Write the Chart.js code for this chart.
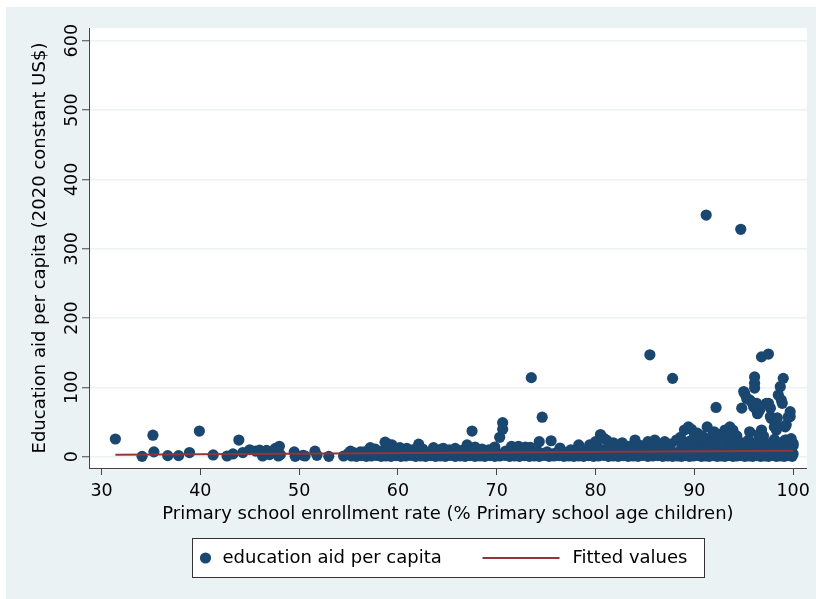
<!DOCTYPE html>
<html>
<head>
<meta charset="utf-8">
<script src="https://cdn.jsdelivr.net/npm/chart.js@4.4.1/dist/chart.umd.min.js"></script>
<style>
  html, body { margin: 0; padding: 0; background: #ffffff; }
  canvas { display: block; }
</style>
</head>
<body>
<canvas id="chart" width="816" height="599"></canvas>
<script>
// Primary school enrollment rate (%) for each country-year observation
const enrollmentRate = [
  31.4, 34.1, 35.2, 35.3, 36.7, 37.8, 38.9, 39.9, 41.3, 42.7, 43.3, 43.9,
  44.3, 45.0, 45.6, 46.0, 46.3, 46.7, 47.0, 47.4, 47.6, 47.9, 48.0, 48.1,
  49.5, 49.6, 50.4, 50.6, 51.6, 51.8, 53.0, 54.5, 55.0,
  55.3, 55.8, 56.3, 56.8, 57.3, 57.8, 58.3, 58.8, 59.3, 59.8, 60.3, 60.8, 61.3,
  61.8, 62.3, 62.8, 63.3, 63.8, 64.3, 64.8, 65.3, 65.8, 66.3, 66.8, 67.3, 67.8,
  55.5, 56.1, 56.6, 57.1, 57.6, 58.1, 58.5, 59.0, 59.6, 60.1, 60.6, 61.1, 61.6,
  62.0, 62.6, 63.1, 63.6, 64.1, 64.6, 65.1, 65.6, 66.1, 66.6, 67.1, 67.6,
  55.2, 56.2, 57.2, 57.7, 58.7, 59.0, 59.4, 60.2, 60.9, 61.5, 62.1, 62.5,
  63.6, 64.4, 64.6, 65.2, 65.8, 66.5, 67.0, 67.5, 67.8,
  68.3, 68.8, 69.3, 69.8, 70.3, 70.8, 71.3, 71.8, 72.3, 72.8,
  73.3, 73.8, 74.3, 74.8, 75.3, 75.8, 76.3, 76.8, 77.3, 77.8,
  68.1, 68.6, 69.1, 69.6, 70.1, 70.9, 71.2, 71.7, 72.0, 72.6,
  73.1, 73.7, 74.1, 74.7, 75.1, 75.7, 76.1, 76.6, 77.1, 77.7,
  68.5, 69.2, 69.8, 70.3, 70.6, 70.6, 71.5, 72.2, 72.9, 73.4, 73.5, 74.3,
  74.6, 75.5, 76.4, 77.5,
  78.3, 78.8, 79.3, 79.8, 80.3, 80.8, 81.3, 81.8, 82.3, 82.8,
  83.3, 83.8, 84.3, 84.8, 85.3, 85.8, 86.3, 86.8, 87.3, 87.8,
  78.1, 78.6, 79.1, 79.6, 80.1, 80.6, 81.1, 81.6, 82.1, 82.6,
  83.1, 83.6, 84.1, 84.6, 85.1, 85.6, 86.1, 86.6, 87.1, 87.6,
  80.2, 81.4, 82.2, 83.0, 84.2, 85.0, 85.8, 86.8, 87.4,
  78.3, 79.4, 80.0, 80.5, 80.8, 81.1, 81.8, 82.7, 83.4, 84.0, 84.6, 85.3,
  85.5, 86.0, 86.6, 87.0, 87.6, 87.8, 88.2,
  88.3, 88.7, 89.1, 89.5, 89.9, 90.3, 90.7, 91.1, 91.5, 91.9,
  92.3, 92.7, 93.1, 93.5, 93.9, 94.3, 94.7, 95.1, 95.5, 95.9,
  96.3, 96.7, 97.1, 97.5, 97.9, 98.3, 98.7, 99.1, 99.5, 99.9,
  88.5, 88.9, 89.3, 89.7, 90.1, 90.5, 90.9, 91.3, 91.7, 92.1,
  92.5, 92.9, 93.3, 93.7, 94.1, 94.5, 94.9, 95.3, 95.7, 96.1,
  96.5, 96.9, 97.3, 97.7, 98.1, 98.5, 98.9, 99.3, 99.7, 100.0,
  88.7, 89.2, 89.6, 90.0, 90.4, 90.9, 91.3, 91.8, 92.2, 92.6,
  93.0, 93.5, 93.9, 94.3, 94.8, 95.2, 95.6, 96.0, 96.4, 96.9,
  97.3, 97.7, 98.2, 98.6, 99.0, 99.4, 99.8, 100.0,
  88.9, 89.5, 90.1, 90.6, 91.2, 91.7, 92.3, 92.8, 93.4, 93.9,
  94.4, 95.0, 95.5, 96.0, 96.6, 97.1, 97.6, 98.1, 98.7, 99.2,
  99.6, 100.0, 99.8, 99.4,
  88.6, 89.0, 89.4, 89.7, 90.3, 90.8, 91.3, 91.8, 92.0, 92.2, 92.6, 93.1,
  93.6, 93.9, 94.3, 94.8, 95.0, 95.3, 95.6, 95.8, 96.0, 96.1, 96.1, 96.3,
  96.3, 96.6, 96.8, 96.8, 97.3, 97.5, 97.5, 97.7, 97.8, 98.1, 98.3, 98.3,
  98.4, 98.5, 98.7, 98.8, 98.9, 99.0, 99.2, 99.3, 99.3, 99.5, 99.7, 91.2,
  94.7, 95.1, 96.1, 97.7, 99.7, 96.5, 94.0, 92.5, 90.0, 97.0, 95.6, 96.4
];

// Education aid per capita (2020 constant US$), same order as enrollmentRate
const aidPerCapita = [
  25.5, 0.5, 31, 7, 1.5, 1.5, 6, 37, 2.5, 1, 4, 24,
  6, 10, 8, 9.5, 1, 9, 3, 9, 12, 1, 15, 3,
  7, 0.5, 2, 1, 8, 2, 0.5, 1, 5,
  1, 0.5, 1.5, 0.5, 1, 2, 0.5, 1, 0.5, 1.5, 0.5, 1, 2,
  0.5, 1, 0.5, 1.5, 0.5, 1, 0.5, 2, 0.5, 1, 0.5, 1.5, 0.5,
  6, 4, 7, 5, 8, 4, 9, 6, 5, 8, 4, 7, 5,
  8, 4, 6, 9, 5, 7, 4, 8, 5, 6, 4, 7,
  8, 7, 13, 11, 21, 18, 17, 13, 12, 10, 18, 11,
  13, 11, 12, 10, 12, 9, 17, 37, 14,
  1, 0.5, 1.5, 0.5, 1, 2, 0.5, 1, 0.5, 1.5,
  0.5, 1, 0.5, 2, 0.5, 1, 1.5, 0.5, 1, 0.5,
  5, 8, 4, 7, 5, 8, 4, 6, 9, 5,
  7, 4, 8, 5, 7, 4, 6, 8, 5, 4,
  11, 10, 14, 28, 39.5, 49, 15, 15, 14, 13.5, 114, 21.6,
  57, 23, 12.5, 10,
  1, 0.5, 1.5, 0.5, 1, 2, 0.5, 1, 0.5, 1.5,
  0.5, 1, 0.5, 2, 0.5, 1, 1.5, 0.5, 1, 0.5,
  6, 9, 5, 8, 4, 10, 6, 9, 5, 8,
  10, 6, 9, 5, 8, 11, 6, 9, 5, 10,
  14, 13, 15, 12, 14, 13, 15, 12, 14,
  17, 17, 21.6, 32, 27, 24, 20, 20, 15, 24, 16, 21.6,
  147, 24, 15, 21.6, 18, 113, 24,
  1, 0.5, 1.5, 0.5, 1, 2, 0.5, 1, 0.5, 1.5,
  0.5, 1, 0.5, 2, 0.5, 1, 1.5, 0.5, 1, 0.5,
  1.5, 0.5, 1, 0.5, 2, 0.5, 1, 0.5, 1.5, 0.5,
  6, 8, 5, 9, 6, 7, 5, 8, 6, 9,
  5, 7, 9, 6, 8, 5, 7, 9, 6, 8,
  5, 7, 9, 6, 8, 5, 7, 9, 6, 4,
  12, 14, 11, 15, 13, 12, 16, 11, 14, 13,
  15, 12, 14, 11, 16, 13, 12, 15, 14, 11,
  16, 13, 12, 15, 14, 11, 13, 16,
  20, 22, 18, 24, 21, 19, 23, 20, 25, 18,
  22, 20, 24, 19, 23, 21, 18, 25, 20, 24,
  22, 19, 26, 18,
  28, 38.5, 43, 39.5, 34, 30, 43, 30, 36, 71, 28, 38.5,
  43, 38.5, 30, 70, 94, 84, 36, 79, 72, 106, 115, 67,
  77, 67, 144, 38.5, 77, 148, 77, 58, 55, 43, 38.5, 48,
  56, 89, 101, 82, 77, 113, 43, 46, 24, 57, 65, 348.5,
  328, 91, 99, 70, 58, 32, 33, 32, 30, 30, 82, 62
];

// Linear fit of aid on enrollment, evaluated at the ends of the observed range
const fittedEnrollment = [31.4, 100];
const fittedAid = [2.9, 8.7];

// Axis tick labels
const xTickValues = [30, 40, 50, 60, 70, 80, 90, 100];
const yTickValues = [0, 100, 200, 300, 400, 500, 600];

const FONT_FAMILY = "'DejaVu Sans', 'Liberation Sans', sans-serif";
const NAVY = '#1a476f';
const MAROON = '#90353b';
const AXIS_GRAY = '#444444';
const REGION_BLUE = '#eaf2f3';

Chart.defaults.font.family = FONT_FAMILY;
Chart.defaults.color = '#000000';

// Light graph region with a white plot region on top of it
const regionBackground = {
  id: 'regionBackground',
  beforeDraw(chart) {
    const { ctx, chartArea: a, width, height } = chart;
    ctx.save();
    ctx.fillStyle = '#ffffff';
    ctx.fillRect(0, 0, width, height);
    ctx.fillStyle = REGION_BLUE;
    ctx.fillRect(6, 7, width - 6, height - 7);
    ctx.fillStyle = '#ffffff';
    ctx.fillRect(a.left, a.top, a.right - a.left, a.bottom - a.top);
    ctx.restore();
  }
};

// Boxed legend centred under the plot region
const boxedLegend = {
  id: 'boxedLegend',
  afterDraw(chart) {
    const { ctx, chartArea: a } = chart;
    const scatterSet = chart.data.datasets[1];
    const fitSet = chart.data.datasets[0];
    const boxW = 512, boxH = 39;
    const cx = (a.left + a.right) / 2;
    const bx = Math.round(cx - boxW / 2) + 0.5;
    const by = 538.5;
    const cy = by + boxH / 2;
    ctx.save();
    ctx.fillStyle = '#ffffff';
    ctx.fillRect(bx, by, boxW, boxH);
    ctx.strokeStyle = '#333333';
    ctx.lineWidth = 1;
    ctx.strokeRect(bx, by, boxW, boxH);

    ctx.fillStyle = scatterSet.backgroundColor;
    ctx.beginPath();
    ctx.arc(bx + 13, cy, scatterSet.pointRadius, 0, Math.PI * 2);
    ctx.fill();

    ctx.font = '18px ' + FONT_FAMILY;
    ctx.fillStyle = '#000000';
    ctx.textAlign = 'left';
    ctx.textBaseline = 'middle';
    ctx.fillText(scatterSet.label, bx + 30, cy);

    ctx.strokeStyle = fitSet.borderColor;
    ctx.lineWidth = fitSet.borderWidth;
    ctx.beginPath();
    ctx.moveTo(bx + 290, cy);
    ctx.lineTo(bx + 367, cy);
    ctx.stroke();

    ctx.fillStyle = '#000000';
    ctx.fillText(fitSet.label, bx + 380, cy);
    ctx.restore();
  }
};

const scatterPoints = enrollmentRate.map((x, i) => ({ x: x, y: aidPerCapita[i] }));
const fittedPoints = fittedEnrollment.map((x, i) => ({ x: x, y: fittedAid[i] }));

new Chart(document.getElementById('chart'), {
  type: 'scatter',
  data: {
    datasets: [
      {
        label: 'Fitted values',
        data: fittedPoints,
        showLine: true,
        borderColor: MAROON,
        borderWidth: 2,
        pointRadius: 0,
        pointHoverRadius: 0,
        order: 0
      },
      {
        label: 'education aid per capita',
        data: scatterPoints,
        backgroundColor: NAVY,
        borderColor: NAVY,
        borderWidth: 0,
        pointRadius: 5.6,
        order: 1
      }
    ]
  },
  options: {
    responsive: false,
    animation: false,
    devicePixelRatio: 1,
    layout: { padding: { left: 0, top: 28, right: 9, bottom: 74 } },
    plugins: {
      legend: { display: false },
      tooltip: { enabled: false }
    },
    scales: {
      x: {
        type: 'linear',
        min: 28.73,
        max: 101.39,
        afterBuildTicks: (scale) => { scale.ticks = xTickValues.map(v => ({ value: v })); },
        afterFit: (scale) => { scale.height = 57; },
        ticks: {
          font: { size: 17.5 },
          color: '#000000',
          padding: 6,
          maxRotation: 0,
          minRotation: 0,
          includeBounds: false
        },
        grid: {
          drawOnChartArea: false,
          drawTicks: true,
          tickLength: 7,
          tickColor: AXIS_GRAY,
          tickWidth: 1
        },
        border: { display: true, color: AXIS_GRAY, width: 1 },
        title: {
          display: true,
          text: 'Primary school enrollment rate (% Primary school age children)',
          font: { size: 18 },
          color: '#000000',
          padding: { top: 0, bottom: 0 }
        }
      },
      y: {
        type: 'linear',
        min: -16.3,
        max: 618.3,
        afterBuildTicks: (scale) => { scale.ticks = yTickValues.map(v => ({ value: v })); },
        afterFit: (scale) => { scale.width = 89; },
        ticks: {
          font: { size: 17.5 },
          color: '#000000',
          padding: -7,
          minRotation: 90,
          maxRotation: 90,
          crossAlign: 'center',
          includeBounds: false
        },
        grid: {
          color: REGION_BLUE,
          lineWidth: 1.5,
          drawTicks: true,
          tickLength: 7,
          tickColor: AXIS_GRAY,
          tickWidth: 1
        },
        border: { display: true, color: AXIS_GRAY, width: 1 },
        title: {
          display: true,
          text: 'Education aid per capita (2020 constant US$)',
          font: { size: 18 },
          color: '#000000',
          padding: { top: 30, bottom: 0 }
        }
      }
    }
  },
  plugins: [regionBackground, boxedLegend]
});
</script>
</body>
</html>
